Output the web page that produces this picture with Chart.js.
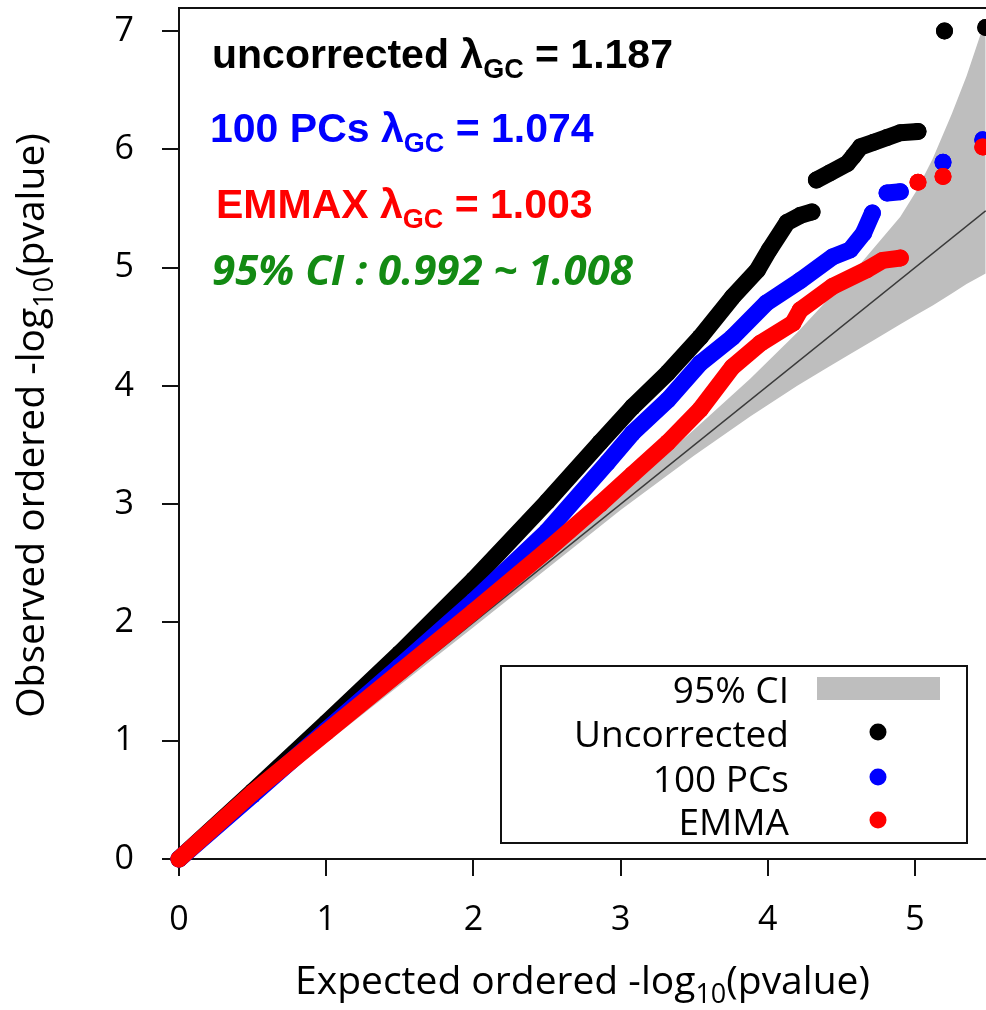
<!DOCTYPE html>
<html>
<head>
<meta charset="utf-8">
<script src="https://cdn.jsdelivr.net/npm/chart.js@4"></script>
<style>
  html, body { margin: 0; padding: 0; background: #fff; }
  #wrap { width: 986px; height: 1010px; position: relative; }
</style>
</head>
<body>
<div id="wrap"><canvas id="qq"></canvas></div>
<script>
// QQ plot: expected vs observed -log10(p), null entries break the dot trail
const uncorrX = [0, 0.5, 1, 1.5, 2, 2.5, 2.86, 3.08, 3.32, 3.54, 3.76, 3.93, 4.01, 4.13, 4.22, 4.30, null, 4.33, 4.42, 4.54, 4.58, 4.63, 4.72, 4.81, 4.90, 5.02, null, 5.20, null, 5.48];
const uncorrY = [0, 0.57, 1.15, 1.74, 2.36, 3.02, 3.52, 3.82, 4.11, 4.41, 4.75, 4.98, 5.15, 5.38, 5.44, 5.47, null, 5.74, 5.80, 5.88, 5.94, 6.02, 6.06, 6.10, 6.14, 6.15, null, 7.00, null, 7.03];

const pcsX = [0, 0.5, 1, 1.5, 2, 2.5, 2.91, 3.08, 3.32, 3.54, 3.76, 3.99, 4.22, 4.44, 4.56, 4.65, 4.71, null, 4.81, 4.90, null, 5.19, null, 5.46];
const pcsY = [0, 0.54, 1.09, 1.63, 2.18, 2.77, 3.35, 3.60, 3.88, 4.19, 4.41, 4.70, 4.89, 5.09, 5.15, 5.29, 5.46, null, 5.63, 5.64, null, 5.89, null, 6.08];

const emmaX = [0, 0.5, 1, 1.5, 2, 2.5, 2.86, 3.08, 3.32, 3.54, 3.76, 3.95, 4.17, 4.22, 4.44, 4.67, 4.78, 4.90, null, 5.02, null, 5.19, null, 5.46];
const emmaY = [0, 0.56, 1.07, 1.58, 2.09, 2.61, 3.00, 3.25, 3.52, 3.80, 4.16, 4.36, 4.53, 4.64, 4.84, 4.98, 5.06, 5.08, null, 5.72, null, 5.77, null, 6.02];

// 95% CI band
const ciX     = [0, 1, 2, 3, 3.5, 3.88, 4.2, 4.4, 4.56, 4.71, 4.9, 5.01, 5.12, 5.25, 5.35, 5.48];
const ciUpper = [0, 1.02, 2.04, 3.08, 3.63, 4.06, 4.45, 4.72, 4.93, 5.15, 5.43, 5.65, 5.92, 6.30, 6.62, 7.10];
const ciLower = [0, 0.98, 1.96, 2.95, 3.41, 3.74, 4.00, 4.15, 4.27, 4.38, 4.52, 4.60, 4.68, 4.78, 4.86, 4.95];

const diagX = [0, 5.48];

const legendLabels = ['95% CI', 'Uncorrected', '100 PCs', 'EMMA'];
const lambdaNames  = ['uncorrected ', '100 PCs ', 'EMMAX '];
const lambdaValues = ['1.187', '1.074', '1.003'];
const ciText = '95% CI : 0.992 ~ 1.008';

const BLACK = '#000000', BLUE = '#0000ff', RED = '#ff0000', GREEN = '#138a13', GRAY = '#bebebe';
const FONT = '"Open Sans", sans-serif';

function pts(xs, ys) {
  return xs.map((x, i) => ({ x: x, y: ys[i] }));
}

function dotSeries(label, xs, ys, color, order) {
  return {
    label: label,
    data: pts(xs, ys),
    showLine: true,
    spanGaps: false,
    borderColor: color,
    borderWidth: 17,
    borderCapStyle: 'round',
    borderJoinStyle: 'round',
    pointRadius: 8.5,
    pointHoverRadius: 8.5,
    pointBorderWidth: 0,
    pointBackgroundColor: color,
    clip: false,
    order: order
  };
}

function drawRich(ctx, x, y, parts, color) {
  ctx.fillStyle = color;
  ctx.textAlign = 'left';
  ctx.textBaseline = 'alphabetic';
  parts.forEach(p => {
    ctx.font = p.font;
    ctx.fillText(p.t, x, y + (p.dy || 0));
    x += ctx.measureText(p.t).width;
  });
}

function richWidth(ctx, parts) {
  let w = 0;
  parts.forEach(p => { ctx.font = p.font; w += ctx.measureText(p.t).width; });
  return w;
}

const overlay = {
  id: 'overlay',
  afterDraw(chart) {
    const ctx = chart.ctx;
    const a = chart.chartArea;
    ctx.save();

    // top frame line
    ctx.strokeStyle = '#111';
    ctx.lineWidth = 2;
    ctx.beginPath();
    ctx.moveTo(a.left, a.top);
    ctx.lineTo(a.right, a.top);
    ctx.stroke();

    // lambda annotations
    const big = 'bold 41px "Liberation Sans", Arial, sans-serif';
    const sub = 'bold 27px "Liberation Sans", Arial, sans-serif';
    const colors = [BLACK, BLUE, RED];
    const lx = [a.left + 33, a.left + 31, a.left + 37];
    const ly = [a.top + 60, a.top + 134, a.top + 210];
    lambdaNames.forEach((n, i) => {
      drawRich(ctx, lx[i], ly[i], [
        { t: n + '\u03bb', font: big },
        { t: 'GC', font: sub, dy: 10 },
        { t: ' = ' + lambdaValues[i], font: big }
      ], colors[i]);
    });
    drawRich(ctx, a.left + 33, a.top + 277, [
      { t: ciText, font: 'italic bold 42px ' + FONT }
    ], GREEN);

    // legend
    const bx = a.right - 485, by = a.bottom - 193, bw = 466, bh = 177;
    ctx.fillStyle = '#fff';
    ctx.fillRect(bx, by, bw, bh);
    ctx.strokeStyle = '#111';
    ctx.lineWidth = 2;
    ctx.strokeRect(bx, by, bw, bh);
    ctx.font = '37px ' + FONT;
    ctx.fillStyle = '#000';
    ctx.textAlign = 'right';
    ctx.textBaseline = 'alphabetic';
    const rowY = [by + 37, by + 81, by + 126, by + 169];
    legendLabels.forEach((t, i) => ctx.fillText(t, bx + 288, rowY[i]));
    ctx.fillStyle = GRAY;
    ctx.fillRect(bx + 316, by + 11, 123, 23);
    [BLACK, BLUE, RED].forEach((c, i) => {
      ctx.fillStyle = c;
      ctx.beginPath();
      ctx.arc(bx + 377, rowY[i + 1] - 15, 8.5, 0, Math.PI * 2);
      ctx.fill();
    });

    // axis titles
    const tf = '39px ' + FONT, sf = '27px ' + FONT;
    const xParts = [
      { t: 'Expected ordered -log', font: tf },
      { t: '10', font: sf, dy: 9 },
      { t: '(pvalue)', font: tf }
    ];
    const xw = richWidth(ctx, xParts);
    drawRich(ctx, (a.left + a.right) / 2 - xw / 2, 994, xParts, '#000');

    const yParts = [
      { t: 'Observed ordered -log', font: tf },
      { t: '10', font: sf, dy: 9 },
      { t: '(pvalue)', font: tf }
    ];
    const yw = richWidth(ctx, yParts);
    ctx.translate(44, (a.top + a.bottom) / 2 - 8);
    ctx.rotate(-Math.PI / 2);
    drawRich(ctx, -yw / 2, 0, yParts, '#000');

    ctx.restore();
  }
};

const axisCommon = {
  type: 'linear',
  border: { display: true, color: '#111', width: 2 },
  grid: { drawOnChartArea: false, drawTicks: true, tickLength: 17, color: '#111', lineWidth: 2 },
  title: { display: false }
};

new Chart(document.getElementById('qq'), {
  type: 'scatter',
  data: {
    datasets: [
      dotSeries('EMMA', emmaX, emmaY, RED, 1),
      dotSeries('100 PCs', pcsX, pcsY, BLUE, 2),
      dotSeries('Uncorrected', uncorrX, uncorrY, BLACK, 3),
      {
        label: 'diagonal',
        data: pts(diagX, diagX),
        showLine: true,
        borderColor: '#3a3a3a',
        borderWidth: 1.6,
        pointRadius: 0,
        order: 4
      },
      {
        label: '95% CI',
        data: pts(ciX, ciUpper),
        showLine: true,
        borderWidth: 0,
        borderColor: GRAY,
        backgroundColor: GRAY,
        pointRadius: 0,
        fill: '+1',
        order: 5
      },
      {
        label: 'ci-lower',
        data: pts(ciX, ciLower),
        showLine: true,
        borderWidth: 0,
        borderColor: GRAY,
        pointRadius: 0,
        fill: false,
        order: 6
      }
    ]
  },
  options: {
    responsive: true,
    maintainAspectRatio: false,
    animation: false,
    events: [],
    layout: { autoPadding: false, padding: { top: 8, right: 0, left: 0, bottom: 0 } },
    plugins: {
      legend: { display: false },
      tooltip: { enabled: false }
    },
    scales: {
      x: Object.assign({}, axisCommon, {
        position: 'bottom',
        min: 0,
        max: 5.482,
        ticks: { stepSize: 1, includeBounds: false, color: '#000', font: { family: 'Open Sans', size: 34 }, padding: 24 },
        afterFit(s) { s.height = 151; s.paddingLeft = 0; s.paddingRight = 0; }
      }),
      y: Object.assign({}, axisCommon, {
        position: 'left',
        min: 0,
        max: 7.194,
        ticks: { stepSize: 1, includeBounds: false, color: '#000', font: { family: 'Open Sans', size: 34 }, padding: 28 },
        afterFit(s) { s.width = 179; s.paddingTop = 0; s.paddingBottom = 0; }
      })
    }
  },
  plugins: [overlay]
});
</script>
</body>
</html>
